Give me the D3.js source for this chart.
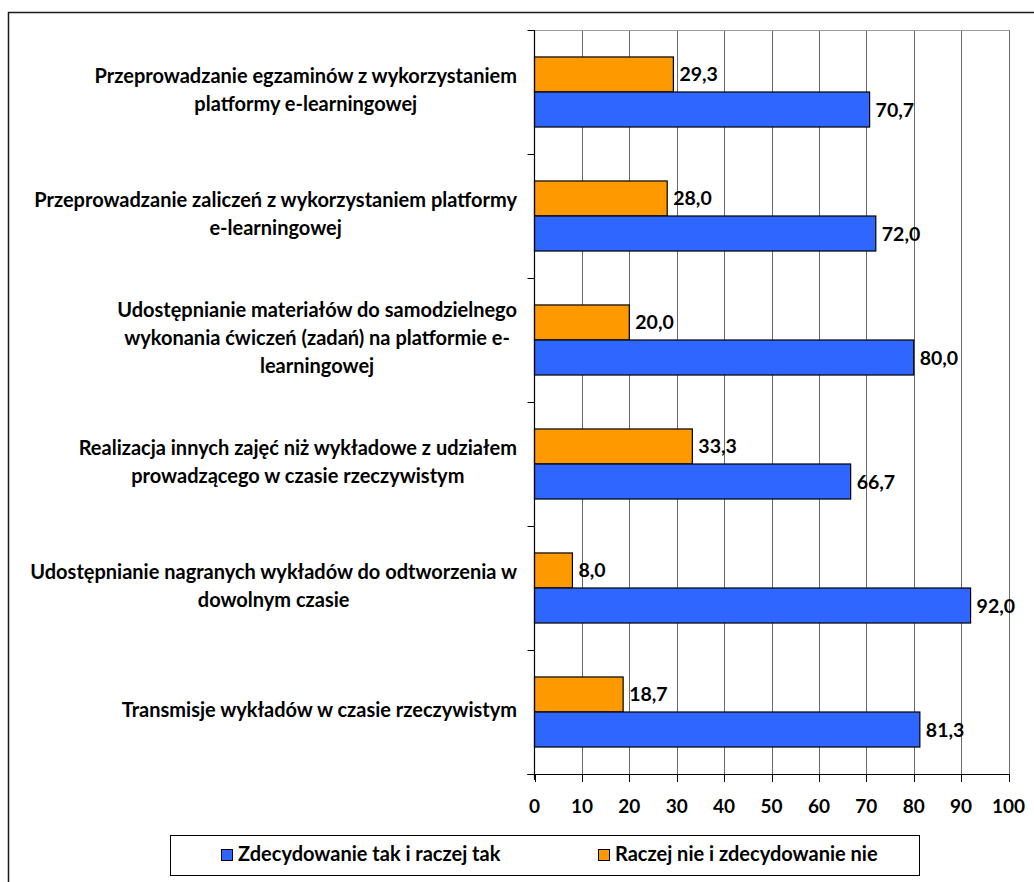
<!DOCTYPE html>
<html>
<head>
<meta charset="utf-8">
<script src="https://cdn.jsdelivr.net/npm/d3@7"></script>
<style>
  html, body { margin: 0; padding: 0; background: #fff; }
  svg { display: block; }
  text { font-family: Lato, "Open Sans", sans-serif; font-weight: bold; fill: #000; }
</style>
</head>
<body>
<svg id="chart" width="1034" height="882"></svg>
<script>
// ---- data ----
const categories = [
  "Przeprowadzanie egzaminów z wykorzystaniem\nplatformy e-learningowej",
  "Przeprowadzanie zaliczeń z wykorzystaniem platformy\ne-learningowej",
  "Udostępnianie materiałów do samodzielnego\nwykonania ćwiczeń (zadań) na platformie e-\nlearningowej",
  "Realizacja innych zajęć niż wykładowe z udziałem\nprowadzącego w czasie rzeczywistym",
  "Udostępnianie nagranych wykładów do odtworzenia w\ndowolnym czasie",
  "Transmisje wykładów w czasie rzeczywistym"
];
const seriesNames = ["Zdecydowanie tak i raczej tak", "Raczej nie i zdecydowanie nie"];
const valuesYes = [70.7, 72.0, 80.0, 66.7, 92.0, 81.3];
const valuesNo  = [29.3, 28.0, 20.0, 33.3, 8.0, 18.7];
const xTicks = [0, 10, 20, 30, 40, 50, 60, 70, 80, 90, 100];

const colors = { yes: "#2E66FF", no: "#FF9900" };

const svg = d3.select("#chart");

// outer border
svg.append("path")
  .attr("d", "M8.5,882 V12.5 H1034")
  .attr("fill", "none").attr("stroke", "#1a1a1a").attr("stroke-width", 1.5);

const x = d3.scaleLinear().domain([0, 100]).range([534.5, 1008.5]);
const y = d3.scaleBand().domain(categories).range([30, 774]).paddingInner(0).paddingOuter(0);
const sub = d3.scaleBand().domain(["no", "yes"]).range([0, y.bandwidth()])
  .paddingInner(0).paddingOuter(0.77);

// gridlines
svg.append("g").selectAll("line").data(xTicks.filter(t => t > 0)).join("line")
  .attr("x1", d => Math.round(x(d)) + 0.5).attr("x2", d => Math.round(x(d)) + 0.5)
  .attr("y1", 30).attr("y2", 774)
  .attr("stroke", "#6a6a6a").attr("stroke-width", 1);
// plot top border
svg.append("line").attr("x1", x(0)).attr("x2", Math.round(x(100)) + 0.5)
  .attr("y1", 30.5).attr("y2", 30.5).attr("stroke", "#9a9a9a").attr("stroke-width", 1);

// bars
const rows = categories.map((c, i) => ({ cat: c, yes: valuesYes[i], no: valuesNo[i] }));
const groups = svg.append("g").selectAll("g").data(rows).join("g")
  .attr("transform", d => `translate(0,${y(d.cat)})`);

["no", "yes"].forEach(k => {
  groups.append("rect")
    .attr("x", x(0))
    .attr("y", sub(k))
    .attr("width", d => x(d[k]) - x(0))
    .attr("height", sub.bandwidth())
    .attr("fill", colors[k])
    .attr("stroke", "#000").attr("stroke-width", 1.2);
  groups.append("text")
    .attr("x", d => x(d[k]) + 6)
    .attr("y", sub(k) + sub.bandwidth() / 2 + 2)
    .attr("dominant-baseline", "middle")
    .attr("font-size", 19.5)
    .text(d => d3.format(".1f")(d[k]).replace(".", ","));
});

// y axis
const yAxisG = svg.append("g");
yAxisG.append("line").attr("x1", x(0)).attr("x2", x(0)).attr("y1", 30).attr("y2", 780)
  .attr("stroke", "#000").attr("stroke-width", 1.2);
const bounds = categories.map(c => y(c)).concat([y.range()[1]]);
yAxisG.selectAll("line.tick").data(bounds).join("line").attr("class", "tick")
  .attr("x1", x(0) - 7).attr("x2", x(0)).attr("y1", d => d + 0.5).attr("y2", d => d + 0.5)
  .attr("stroke", "#000").attr("stroke-width", 1);

// x axis
const xAxisG = svg.append("g");
xAxisG.append("line").attr("x1", x(0) - 7).attr("x2", Math.round(x(100)) + 0.5)
  .attr("y1", 774.5).attr("y2", 774.5).attr("stroke", "#000").attr("stroke-width", 1.2);
xAxisG.selectAll("line.tick").data(xTicks).join("line").attr("class", "tick")
  .attr("x1", d => Math.round(x(d)) + 0.5).attr("x2", d => Math.round(x(d)) + 0.5)
  .attr("y1", 774).attr("y2", 782).attr("stroke", "#000").attr("stroke-width", 1);
xAxisG.selectAll("text").data(xTicks).join("text")
  .attr("x", d => x(d)).attr("y", 808)
  .attr("text-anchor", "middle").attr("dominant-baseline", "middle")
  .attr("font-size", 19)
  .text(d => d);

// category labels
const labelRight = 517;
const lineH = 28;
categories.forEach(c => {
  const lines = c.split("\n");
  const g = svg.append("g");
  const texts = lines.map((ln, j) => g.append("text")
    .attr("font-size", 20)
    .attr("text-anchor", "middle")
    .attr("dominant-baseline", "middle")
    .attr("y", y(c) + y.bandwidth() / 2 + (j - (lines.length - 1) / 2) * lineH)
    .text(ln));
  const maxW = d3.max(texts, t => t.node().getComputedTextLength());
  texts.forEach(t => t.attr("x", labelRight - maxW / 2));
});

// legend
const leg = svg.append("g");
leg.append("rect").attr("x", 170.5).attr("y", 835.5).attr("width", 749).attr("height", 40)
  .attr("fill", "#fff").attr("stroke", "#000").attr("stroke-width", 1);
const legItems = [
  { name: seriesNames[0], color: colors.yes, x: 221 },
  { name: seriesNames[1], color: colors.no, x: 598 }
];
legItems.forEach(it => {
  leg.append("rect").attr("x", it.x + 0.5).attr("y", 849.5).attr("width", 11).attr("height", 11)
    .attr("fill", it.color).attr("stroke", "#000").attr("stroke-width", 1);
  leg.append("text").attr("x", it.x + 17).attr("y", 856)
    .attr("dominant-baseline", "middle").attr("font-size", 20)
    .text(it.name);
});
</script>
</body>
</html>
